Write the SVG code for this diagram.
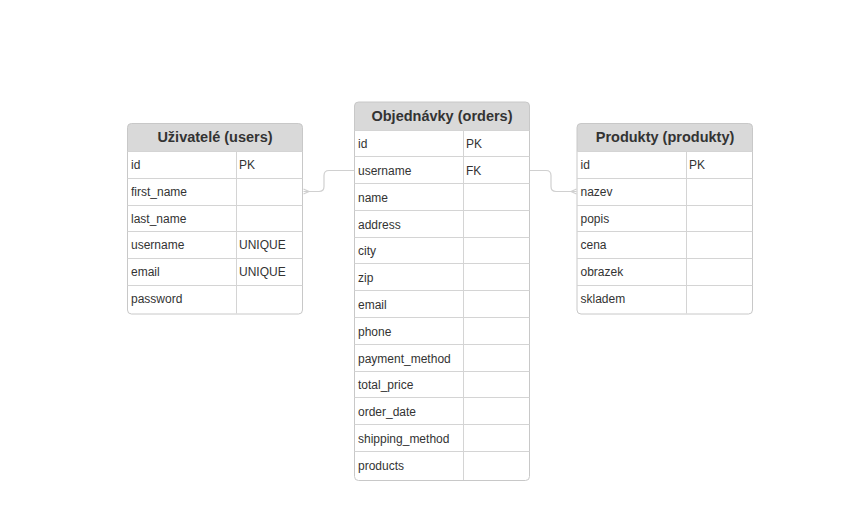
<svg xmlns="http://www.w3.org/2000/svg" width="859" height="527" viewBox="0 0 859 527">
<style>
.tbl{fill:none;stroke:#c8c8c8;stroke-width:1}
.hdr{fill:#d9d9d9}
.ln{stroke:#d4d4d4;stroke-width:1;fill:none}
.h{font-family:"Liberation Sans",Arial,sans-serif;font-size:14.5px;font-weight:bold;fill:#333333;text-anchor:middle}
.t{font-family:"Liberation Sans",Arial,sans-serif;font-size:12px;fill:#333333}
.conn{stroke:#d0d0d0;stroke-width:1.2;fill:none}
</style>
<rect width="859" height="527" fill="#ffffff"/>

<g id="connectors">
<path class="conn" d="M303.5,191.5 H319 Q324,191.5 324,186.5 V175.5 Q324,170.5 329,170.5 H354.5"/>
<path class="conn" d="M303.5,189 L309,191.5 L303.5,194"/>
<path class="conn" d="M530,170.5 H546 Q551,170.5 551,175.5 V186.5 Q551,191.5 556,191.5 H576.5"/>
<path class="conn" d="M576.5,189 L571,191.5 L576.5,194"/>
</g>

<g id="users">
<path class="hdr" d="M127.5,151 V127 Q127.5,123.5 131,123.5 H299 Q302.5,123.5 302.5,127 V151 Z"/>
<rect class="tbl" x="127.5" y="123.5" width="175" height="190.5" rx="4"/>
<path class="ln" d="M127.5,151.5 H302.5 M127.5,178.5 H302.5 M127.5,205.5 H302.5 M127.5,231.5 H302.5 M127.5,258.5 H302.5 M127.5,285.5 H302.5 M236.5,151.5 V313.5"/>
<text class="h" x="215" y="142">Uživatelé (users)</text>
<text class="t" x="131" y="168.5">id</text><text class="t" x="239" y="168.5">PK</text>
<text class="t" x="131" y="195.5">first_name</text>
<text class="t" x="131" y="222.5">last_name</text>
<text class="t" x="131" y="248.5">username</text><text class="t" x="239" y="248.5">UNIQUE</text>
<text class="t" x="131" y="275.5">email</text><text class="t" x="239" y="275.5">UNIQUE</text>
<text class="t" x="131" y="302.5">password</text>
</g>

<g id="orders">
<path class="hdr" d="M354.5,130 V105.5 Q354.5,102 358,102 H526 Q529.5,102 529.5,105.5 V130 Z"/>
<rect class="tbl" x="354.5" y="102" width="175" height="378.5" rx="4"/>
<path class="ln" d="M354.5,130.5 H529.5 M354.5,156.5 H529.5 M354.5,183.5 H529.5 M354.5,210.5 H529.5 M354.5,237.5 H529.5 M354.5,263.5 H529.5 M354.5,290.5 H529.5 M354.5,317.5 H529.5 M354.5,344.5 H529.5 M354.5,371.5 H529.5 M354.5,397.5 H529.5 M354.5,424.5 H529.5 M354.5,451.5 H529.5 M463.5,130.5 V480"/>
<text class="h" x="442" y="121">Objednávky (orders)</text>
<text class="t" x="358" y="147.5">id</text><text class="t" x="466" y="147.5">PK</text>
<text class="t" x="358" y="174.5">username</text><text class="t" x="466" y="174.5">FK</text>
<text class="t" x="358" y="201.5">name</text>
<text class="t" x="358" y="228.5">address</text>
<text class="t" x="358" y="254.5">city</text>
<text class="t" x="358" y="281.5">zip</text>
<text class="t" x="358" y="308.5">email</text>
<text class="t" x="358" y="335.5">phone</text>
<text class="t" x="358" y="362.5">payment_method</text>
<text class="t" x="358" y="388.5">total_price</text>
<text class="t" x="358" y="415.5">order_date</text>
<text class="t" x="358" y="442.5">shipping_method</text>
<text class="t" x="358" y="469.5">products</text>
</g>

<g id="products">
<path class="hdr" d="M577,151 V127 Q577,123.5 580.5,123.5 H749 Q752.5,123.5 752.5,127 V151 Z"/>
<rect class="tbl" x="577" y="123.5" width="175.5" height="190.5" rx="4"/>
<path class="ln" d="M577,151.5 H752.5 M577,178.5 H752.5 M577,205.5 H752.5 M577,231.5 H752.5 M577,258.5 H752.5 M577,285.5 H752.5 M686.5,151.5 V313.5"/>
<text class="h" x="665" y="142">Produkty (produkty)</text>
<text class="t" x="580.5" y="168.5">id</text><text class="t" x="689" y="168.5">PK</text>
<text class="t" x="580.5" y="195.5">nazev</text>
<text class="t" x="580.5" y="222.5">popis</text>
<text class="t" x="580.5" y="248.5">cena</text>
<text class="t" x="580.5" y="275.5">obrazek</text>
<text class="t" x="580.5" y="302.5">skladem</text>
</g>
</svg>
